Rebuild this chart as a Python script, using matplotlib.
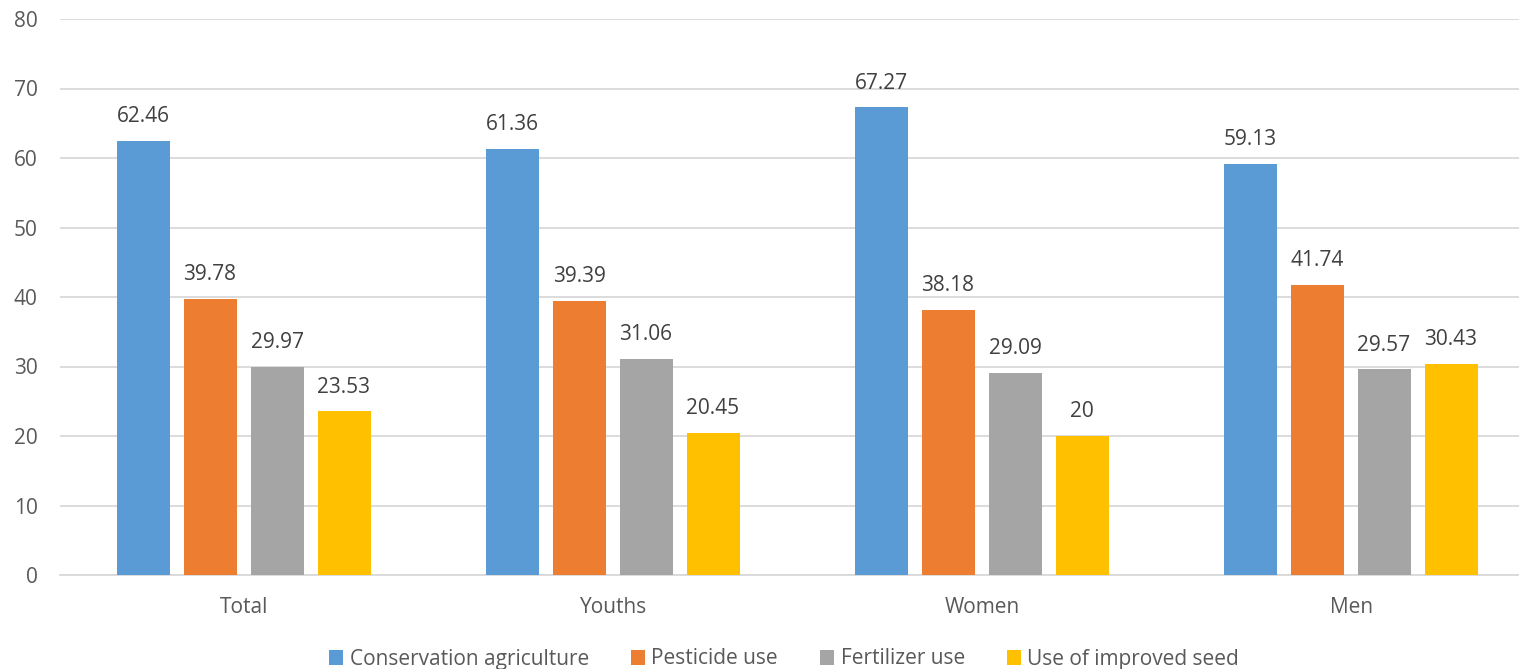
import numpy as np
import matplotlib
matplotlib.use("Agg")
import matplotlib.pyplot as plt

# adoption rates (%) by group
groups = ["Total", "Youths", "Women", "Men"]
series_names = ["Conservation agriculture", "Pesticide use", "Fertilizer use", "Use of improved seed"]
conservation = [62.46, 61.36, 67.27, 59.13]
pesticide = [39.78, 39.39, 38.18, 41.74]
fertilizer = [29.97, 31.06, 29.09, 29.57]
improved_seed = [23.53, 20.45, 20, 30.43]
labels = [["62.46", "61.36", "67.27", "59.13"],
          ["39.78", "39.39", "38.18", "41.74"],
          ["29.97", "31.06", "29.09", "29.57"],
          ["23.53", "20.45", "20", "30.43"]]
colors = ["#5B9BD5", "#ED7D31", "#A5A5A5", "#FFC000"]

plt.rcParams['font.family'] = ['Open Sans', 'DejaVu Sans']

W, H = 1519, 669
fig = plt.figure(figsize=(W / 100, H / 100), dpi=100)
ax = fig.add_axes([60 / W, 1 - 575 / H, 1476 / W, (575 - 19) / H])

x = np.arange(len(groups))
pitch = 67 / 369
width = 53 / 369
values = [conservation, pesticide, fertilizer, improved_seed]
for i, (vals, name, col) in enumerate(zip(values, series_names, colors)):
    pos = x + (i - 1.5) * pitch - 1 / 369
    ax.bar(pos, vals, width=width, color=col, label=name, zorder=3)
    for px, v, lab in zip(pos, vals, labels[i]):
        ax.annotate(lab, (px, v), xytext=(0, 13.5), textcoords="offset points",
                    ha="center", va="baseline", fontsize=15, color="#404040")

ax.set_xlim(-0.5, 3.5)
ax.set_ylim(0, 80)
ax.set_yticks(range(0, 81, 10))
ax.set_xticks(x)
ax.set_xticklabels(groups)
ax.tick_params(axis="both", length=0, labelsize=15, labelcolor="#595959")
ax.tick_params(axis="y", pad=16)
ax.tick_params(axis="x", pad=16)
ax.grid(axis="y", color="#D9D9D9", linewidth=1.3, zorder=0)
for s in ["top", "right", "left"]:
    ax.spines[s].set_visible(False)
ax.spines["bottom"].set_color("#D9D9D9")
ax.spines["bottom"].set_linewidth(1.3)

fig.legend(loc="center", bbox_to_anchor=(784 / W, 1 - 659 / H), ncol=4,
           frameon=False, fontsize=15, handlelength=0.7, handleheight=0.7,
           handletextpad=0.3, columnspacing=2.0, labelcolor="#595959")

fig.savefig("out.png", dpi=100)
